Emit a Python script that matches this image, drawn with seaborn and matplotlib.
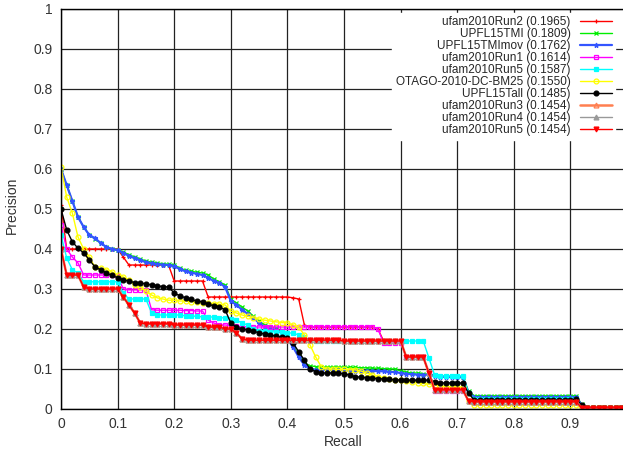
import pandas as pd
import matplotlib
matplotlib.use("Agg")
import matplotlib.pyplot as plt
import seaborn as sns

sns.set_theme(style="white")
plt.rcParams["font.family"] = ["Liberation Sans", "DejaVu Sans"]

# recall levels (interpolated precision at each 0.01 recall)
recall = [round(i * 0.01, 2) for i in range(100)]

ufam_run2 = [
    0.51, 0.40, 0.40, 0.40, 0.40, 0.40, 0.40, 0.40, 0.40, 0.40,
    0.40, 0.38, 0.36, 0.36, 0.36, 0.36, 0.36, 0.36, 0.36, 0.36,
    0.32, 0.32, 0.32, 0.32, 0.32, 0.32, 0.28, 0.28, 0.28, 0.28,
    0.28, 0.28, 0.28, 0.28, 0.28, 0.28, 0.28, 0.28, 0.28, 0.28,
    0.28, 0.278, 0.275, 0.21, 0.205, 0.205, 0.205, 0.205, 0.205, 0.205,
    0.205, 0.205, 0.205, 0.205, 0.205, 0.205, 0.20, 0.17, 0.17, 0.17,
    0.17, 0.13, 0.13, 0.13, 0.13, 0.09, 0.048, 0.048, 0.048, 0.048,
    0.048, 0.048, 0.02, 0.018, 0.018, 0.018, 0.018, 0.018, 0.018, 0.018,
    0.018, 0.018, 0.018, 0.018, 0.018, 0.018, 0.018, 0.018, 0.018, 0.018,
    0.018, 0.018, 0.003, 0.003, 0.003, 0.003, 0.003, 0.003, 0.003, 0.003,
]
upfl_tmi = [
    0.60, 0.56, 0.52, 0.48, 0.455, 0.435, 0.425, 0.415, 0.405, 0.40,
    0.398, 0.392, 0.386, 0.38, 0.375, 0.37, 0.367, 0.365, 0.363, 0.362,
    0.36, 0.352, 0.347, 0.344, 0.342, 0.34, 0.335, 0.325, 0.318, 0.31,
    0.275, 0.265, 0.255, 0.245, 0.232, 0.22, 0.21, 0.205, 0.202, 0.195,
    0.18, 0.16, 0.135, 0.115, 0.108, 0.106, 0.105, 0.105, 0.105, 0.105,
    0.105, 0.104, 0.104, 0.103, 0.103, 0.102, 0.102, 0.101, 0.10, 0.10,
    0.095, 0.092, 0.09, 0.09, 0.088, 0.087, 0.085, 0.083, 0.082, 0.082,
    0.082, 0.08, 0.045, 0.033, 0.033, 0.033, 0.033, 0.033, 0.033, 0.033,
    0.033, 0.033, 0.033, 0.033, 0.033, 0.033, 0.033, 0.033, 0.033, 0.033,
    0.033, 0.033, 0.012, 0.004, 0.004, 0.004, 0.004, 0.004, 0.004, 0.004,
]
upfl_tmimov = [
    0.60, 0.56, 0.52, 0.48, 0.455, 0.435, 0.427, 0.415, 0.405, 0.40,
    0.397, 0.39, 0.383, 0.377, 0.372, 0.367, 0.364, 0.362, 0.361, 0.36,
    0.357, 0.35, 0.344, 0.341, 0.338, 0.335, 0.328, 0.32, 0.315, 0.305,
    0.27, 0.26, 0.248, 0.238, 0.228, 0.215, 0.205, 0.20, 0.198, 0.19,
    0.175, 0.155, 0.13, 0.11, 0.10, 0.098, 0.097, 0.097, 0.097, 0.097,
    0.097, 0.096, 0.096, 0.096, 0.095, 0.095, 0.095, 0.094, 0.093, 0.092,
    0.09, 0.088, 0.087, 0.086, 0.086, 0.085, 0.083, 0.081, 0.08, 0.08,
    0.08, 0.079, 0.04, 0.03, 0.03, 0.03, 0.03, 0.03, 0.03, 0.03,
    0.03, 0.03, 0.03, 0.03, 0.03, 0.03, 0.03, 0.03, 0.03, 0.03,
    0.03, 0.03, 0.01, 0.003, 0.003, 0.003, 0.003, 0.003, 0.003, 0.003,
]
ufam_run1 = [
    0.46, 0.40, 0.38, 0.365, 0.335, 0.335, 0.335, 0.335, 0.335, 0.335,
    0.333, 0.30, 0.298, 0.298, 0.298, 0.298, 0.248, 0.247, 0.247, 0.247,
    0.247, 0.247, 0.246, 0.246, 0.245, 0.245, 0.222, 0.215, 0.21, 0.21,
    0.208, 0.207, 0.206, 0.205, 0.205, 0.205, 0.205, 0.205, 0.205, 0.205,
    0.205, 0.205, 0.205, 0.205, 0.205, 0.205, 0.205, 0.205, 0.205, 0.205,
    0.205, 0.205, 0.205, 0.205, 0.205, 0.205, 0.20, 0.165, 0.165, 0.165,
    0.165, 0.13, 0.13, 0.13, 0.13, 0.09, 0.045, 0.045, 0.045, 0.045,
    0.045, 0.045, 0.02, 0.018, 0.018, 0.018, 0.018, 0.018, 0.018, 0.018,
    0.018, 0.018, 0.018, 0.018, 0.018, 0.018, 0.018, 0.018, 0.018, 0.018,
    0.018, 0.018, 0.003, 0.003, 0.003, 0.003, 0.003, 0.003, 0.003, 0.003,
]
ufam_run5_cyan = [
    0.435, 0.378, 0.348, 0.34, 0.318, 0.318, 0.318, 0.318, 0.318, 0.318,
    0.318, 0.29, 0.275, 0.275, 0.275, 0.275, 0.24, 0.235, 0.235, 0.235,
    0.235, 0.235, 0.233, 0.232, 0.232, 0.23, 0.23, 0.23, 0.228, 0.228,
    0.225, 0.222, 0.215, 0.21, 0.20, 0.195, 0.195, 0.193, 0.193, 0.193,
    0.19, 0.19, 0.185, 0.18, 0.172, 0.17, 0.17, 0.17, 0.17, 0.17,
    0.17, 0.17, 0.17, 0.17, 0.17, 0.17, 0.17, 0.17, 0.17, 0.17,
    0.17, 0.17, 0.17, 0.17, 0.17, 0.128, 0.085, 0.083, 0.083, 0.083,
    0.083, 0.083, 0.04, 0.025, 0.025, 0.025, 0.025, 0.025, 0.025, 0.025,
    0.025, 0.025, 0.025, 0.025, 0.025, 0.025, 0.025, 0.025, 0.025, 0.025,
    0.025, 0.025, 0.003, 0.003, 0.003, 0.003, 0.003, 0.003, 0.003, 0.003,
]
otago_bm25 = [
    0.605, 0.53, 0.49, 0.43, 0.40, 0.38, 0.355, 0.352, 0.348, 0.343,
    0.335, 0.33, 0.323, 0.31, 0.305, 0.295, 0.285, 0.278, 0.275, 0.272,
    0.272, 0.27, 0.27, 0.268, 0.268, 0.266, 0.265, 0.263, 0.262, 0.26,
    0.245, 0.24, 0.235, 0.232, 0.228, 0.225, 0.222, 0.22, 0.218, 0.216,
    0.215, 0.21, 0.205, 0.185, 0.16, 0.13, 0.105, 0.10, 0.10, 0.099,
    0.099, 0.098, 0.098, 0.095, 0.09, 0.085, 0.08, 0.078, 0.075, 0.072,
    0.072, 0.07, 0.068, 0.066, 0.064, 0.062, 0.06, 0.058, 0.056, 0.055,
    0.055, 0.054, 0.02, 0.01, 0.01, 0.01, 0.01, 0.01, 0.01, 0.01,
    0.01, 0.01, 0.01, 0.01, 0.01, 0.01, 0.01, 0.01, 0.01, 0.01,
    0.01, 0.01, 0.003, 0.003, 0.003, 0.003, 0.003, 0.003, 0.003, 0.003,
]
upfl_tall = [
    0.50, 0.448, 0.418, 0.402, 0.39, 0.373, 0.355, 0.348, 0.34, 0.334,
    0.328, 0.323, 0.32, 0.316, 0.315, 0.313, 0.31, 0.308, 0.306, 0.305,
    0.29, 0.283, 0.278, 0.274, 0.27, 0.268, 0.262, 0.258, 0.255, 0.248,
    0.215, 0.205, 0.20, 0.198, 0.195, 0.19, 0.188, 0.185, 0.182, 0.18,
    0.178, 0.165, 0.143, 0.122, 0.10, 0.093, 0.09, 0.09, 0.09, 0.09,
    0.088, 0.085, 0.08, 0.08, 0.078, 0.077, 0.076, 0.075, 0.074, 0.073,
    0.072, 0.072, 0.072, 0.072, 0.072, 0.072, 0.068, 0.065, 0.065, 0.065,
    0.065, 0.065, 0.04, 0.022, 0.022, 0.022, 0.022, 0.022, 0.022, 0.022,
    0.022, 0.022, 0.022, 0.022, 0.022, 0.022, 0.022, 0.022, 0.022, 0.022,
    0.022, 0.025, 0.01, 0.003, 0.003, 0.003, 0.003, 0.003, 0.003, 0.003,
]
# ufam2010Run3, Run4 and Run5 share the same curve (same MAP 0.1454)
ufam_run345 = [
    0.40, 0.335, 0.335, 0.335, 0.305, 0.30, 0.30, 0.30, 0.30, 0.30,
    0.30, 0.28, 0.26, 0.24, 0.215, 0.213, 0.213, 0.213, 0.213, 0.213,
    0.21, 0.21, 0.21, 0.21, 0.21, 0.21, 0.205, 0.205, 0.205, 0.20,
    0.20, 0.19, 0.175, 0.172, 0.172, 0.172, 0.172, 0.172, 0.172, 0.172,
    0.172, 0.172, 0.172, 0.172, 0.172, 0.172, 0.172, 0.172, 0.172, 0.172,
    0.17, 0.17, 0.17, 0.17, 0.17, 0.17, 0.17, 0.17, 0.17, 0.17,
    0.17, 0.13, 0.13, 0.13, 0.13, 0.09, 0.048, 0.048, 0.048, 0.048,
    0.048, 0.048, 0.02, 0.018, 0.018, 0.018, 0.018, 0.018, 0.018, 0.018,
    0.018, 0.018, 0.018, 0.018, 0.018, 0.018, 0.018, 0.018, 0.018, 0.018,
    0.018, 0.018, 0.003, 0.003, 0.003, 0.003, 0.003, 0.003, 0.003, 0.003,
]

runs = [
    ("ufam2010Run2 (0.1965)", ufam_run2, "#ff0000", "+", "#ff0000", 1.0),
    ("UPFL15TMI (0.1809)", upfl_tmi, "#00ee00", "x", "#00ee00", 1.0),
    ("UPFL15TMImov (0.1762)", upfl_tmimov, "#3355ff", "*", "#3355ff", 1.6),
    ("ufam2010Run1 (0.1614)", ufam_run1, "#ff00ff", "s", "none", 1.0),
    ("ufam2010Run5 (0.1587)", ufam_run5_cyan, "#00ffff", "s", "#00ffff", 1.0),
    ("OTAGO-2010-DC-BM25 (0.1550)", otago_bm25, "#ffff00", "o", "none", 1.0),
    ("UPFL15Tall (0.1485)", upfl_tall, "#000000", "o", "#000000", 1.0),
    ("ufam2010Run3 (0.1454)", ufam_run345, "#ff7f50", "^", "none", 1.8),
    ("ufam2010Run4 (0.1454)", ufam_run345, "#999999", "^", "#999999", 1.0),
    ("ufam2010Run5 (0.1454)", ufam_run345, "#ff0000", "v", "#ff0000", 1.0),
]

fig = plt.figure(figsize=(6.23, 4.5), dpi=100)
ax = fig.add_axes([61 / 623, 41 / 450, 566 / 623, 400 / 450])

for label, values, color, marker, face, lw in runs:
    df = pd.DataFrame({"Recall": recall, "Precision": values})
    sns.lineplot(data=df, x="Recall", y="Precision", ax=ax, color=color,
                 marker=marker, markersize=3.5, markerfacecolor=face,
                 markeredgecolor=color, markeredgewidth=0.9, linewidth=lw,
                 label=label, errorbar=None, sort=False)

ax.set_xlim(0, 1)
ax.set_ylim(0, 1)
ax.set_xticks([0, 0.1, 0.2, 0.3, 0.4, 0.5, 0.6, 0.7, 0.8, 0.9])
ax.set_xticklabels(["0", "0.1", "0.2", "0.3", "0.4", "0.5", "0.6", "0.7", "0.8", "0.9"])
ax.set_yticks([0, 0.1, 0.2, 0.3, 0.4, 0.5, 0.6, 0.7, 0.8, 0.9, 1])
ax.set_yticklabels(["0", "0.1", "0.2", "0.3", "0.4", "0.5", "0.6", "0.7", "0.8", "0.9", "1"])
ax.grid(True, color="#222222", linewidth=0.9)
ax.set_axisbelow(True)
ax.tick_params(length=0, labelsize=10, colors="#333333", pad=6)
for s in ax.spines.values():
    s.set_color("#000000")
    s.set_linewidth(1)

ax.set_xlabel("Recall", fontsize=10, color="#333333")
ax.set_ylabel("Precision", fontsize=10, color="#333333")
ax.xaxis.set_label_coords(0.498, -0.064)
ax.yaxis.set_label_coords(-0.075, 0.51)

leg = ax.legend(loc="upper right", bbox_to_anchor=(0.99, 1.006), markerfirst=False,
                fontsize=8.5, labelspacing=0.0, handlelength=2.7, handletextpad=0.8,
                borderpad=0.3, frameon=True, fancybox=False, facecolor="white",
                edgecolor="white", framealpha=1.0)
# right-align legend labels against the line samples
leg._legend_box._children[-1]._children[0].align = "right"

fig.savefig("out.png", dpi=100)
